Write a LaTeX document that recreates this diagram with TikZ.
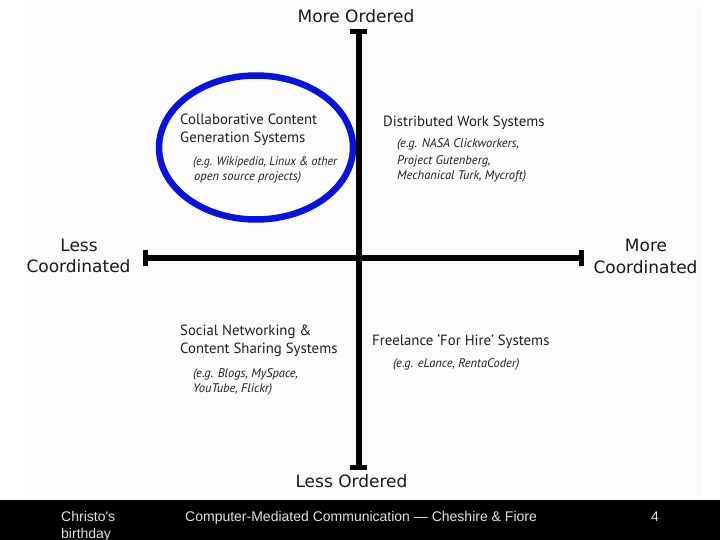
\documentclass[tikz,border=0pt]{standalone}
\usepackage{fontspec}
\setmainfont{DejaVu Sans}
\newfontfamily\quadfont{PT Sans}
\newfontfamily\footfont{Liberation Sans}
\definecolor{ellblue}{RGB}{10,20,215}
\definecolor{imgbg}{RGB}{251,251,251}
\definecolor{foottext}{RGB}{225,225,225}
\tikzset{
  axislabel/.style={inner sep=0pt, anchor=base, font=\fontsize{17}{17}\selectfont, text=black!90},
  quadtitle/.style={inner sep=0pt, anchor=base west, font=\quadfont\fontsize{14.8}{14.8}\selectfont, text=black!88},
  quadex/.style={inner sep=0pt, anchor=base west, font=\quadfont\itshape\fontsize{12.5}{12.5}\selectfont, text=black!88},
  axisline/.style={line width=6pt, black},
  endbar/.style={line width=5pt, black},
  footlabel/.style={inner sep=0pt, anchor=base west, font=\footfont\fontsize{14}{14}\selectfont, text=foottext},
}
\begin{document}
\begin{tikzpicture}[x=1pt,y=-1pt]
\useasboundingbox (0,0) rectangle (720,540);
\fill[white] (0,0) rectangle (720,540);
\fill[imgbg] (24,7) rectangle (702,497);
% axes
\coordinate (top) at (358.5,32);
\coordinate (bot) at (358.5,467);
\coordinate (lft) at (145,257.5);
\coordinate (rgt) at (581,257.5);
\draw[axisline] (top) -- (bot);
\draw[axisline] (lft) -- (rgt);
\draw[endbar] ([xshift=-8.5pt]top) -- ([xshift=8.5pt]top);
\draw[endbar] ([xshift=-8.5pt]bot) -- ([xshift=8.5pt]bot);
\draw[endbar] ([yshift=-8pt]lft) -- ([yshift=8pt]lft);
\draw[endbar] ([yshift=-8pt]rgt) -- ([yshift=8pt]rgt);
% axis labels
\node[axislabel] (mo) at (356,22.5) {More Ordered};
\node[axislabel] (lo) at (351.5,487.5) {Less Ordered};
\node[axislabel] (lc1) at (79,251.5) {Less};
\node[axislabel] (lc2) at (78.5,272.5) {Coordinated};
\node[axislabel] (mc1) at (646,251.5) {More};
\node[axislabel] (mc2) at (645.5,273.5) {Coordinated};
% ellipse
\draw[ellblue, line width=6.5pt] (256,147.5) ellipse [x radius=97, y radius=72];
% quadrant 1
\node[quadtitle] (q1a) at (180,125) {Collaborative Content};
\node[quadtitle] (q1b) at (180,143) {Generation Systems};
\node[quadex, xscale=0.95] (q1c) at (193,165.5) {(e.g. Wikipedia, Linux \& other};
\node[quadex] (q1d) at (194,180.5) {open source projects)};
% quadrant 2
\node[quadtitle] (q2a) at (383,127) {Distributed Work Systems};
\node[quadex] (q2b) at (397,147.5) {(e.g. NASA Clickworkers,};
\node[quadex] (q2c) at (397,164.5) {Project Gutenberg,};
\node[quadex] (q2d) at (397,179.5) {Mechanical Turk, Mycroft)};
% quadrant 3
\node[quadtitle] (q3a) at (180,335) {Social Networking \&};
\node[quadtitle] (q3b) at (180,353) {Content Sharing Systems};
\node[quadex] (q3c) at (193,377.5) {(e.g. Blogs, MySpace,};
\node[quadex] (q3d) at (193,392.5) {YouTube, Flickr)};
% quadrant 4
\node[quadtitle] (q4a) at (372,345) {Freelance ‘For Hire’ Systems};
\node[quadex] (q4b) at (393,367.5) {(e.g. eLance, RentaCoder)};
% footer
\fill[black] (0,500) rectangle (720,540);
\node[footlabel] (f1) at (61,521) {Christo's};
\node[footlabel] (f2) at (61,538) {birthday};
\node[footlabel] (f3) at (185,521) {Computer-Mediated Communication — Cheshire \& Fiore};
\node[footlabel] (f4) at (651,521) {4};
\end{tikzpicture}
\end{document}
